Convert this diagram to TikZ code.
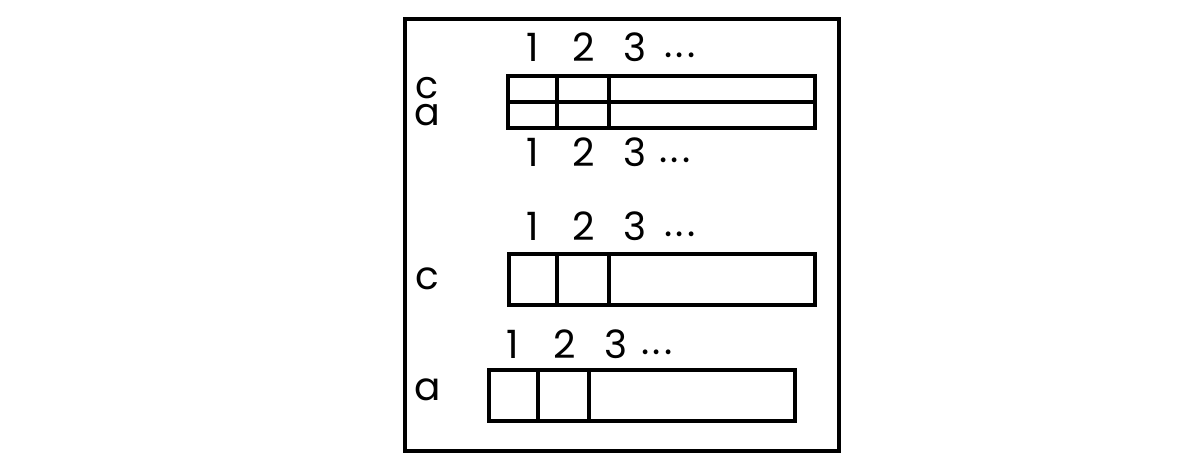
\documentclass[tikz,border=0pt]{standalone}
\usepackage{fontspec}
\setmainfont{Poppins}
\newcommand{\mydots}{.\kern3pt.\kern3pt.}
\begin{document}
\begin{tikzpicture}[x=1pt,y=-1pt,
  lbl/.style={font=\fontsize{39}{39}\selectfont, inner sep=0pt, anchor=center},
  frm/.style={draw=black, line width=3.5pt},
  cell/.style={draw=black, line width=3.5pt}]
\useasboundingbox (0,0) rectangle (1200,472);
\node[frm, minimum width=434pt, minimum height=432pt, anchor=north west, inner sep=0pt] (frame) at (403,17) {};
% top double row
\node[cell, anchor=north west, minimum width=307pt, minimum height=52pt, inner sep=0pt] (ca) at (506,74) {};
\draw[cell] (ca.west) -- (ca.east);
\draw[cell] (557,74) -- (557,126);
\draw[cell] (609,74) -- (609,126);
\node[lbl] (t1) at (533,47) {1};
\node[lbl] (t2) at (584,47) {2};
\node[lbl] (t3) at (635,47) {3};
\node[lbl] (td) at (680,55) {\mydots};
\node[lbl, font=\fontsize{38}{27}\selectfont, align=center, anchor=base] (lca) at (427,125) {c\\a};
\node[lbl] (b1) at (533,152) {1};
\node[lbl] (b2) at (584,152) {2};
\node[lbl] (b3) at (635,152) {3};
\node[lbl] (bd) at (675,160) {\mydots};
% c row
\node[cell, anchor=north west, minimum width=306pt, minimum height=51pt, inner sep=0pt] (cb) at (507,252) {};
\draw[cell] (557,252) -- (557,303);
\draw[cell] (609,252) -- (609,303);
\node[lbl] (c1) at (533,226) {1};
\node[lbl] (c2) at (584,226) {2};
\node[lbl] (c3) at (635,226) {3};
\node[lbl] (cd) at (680,234) {\mydots};
\node[lbl] (lc2) at (427,279) {c};
% a row
\node[cell, anchor=north west, minimum width=306pt, minimum height=51pt, inner sep=0pt] (ab) at (487,368) {};
\draw[cell] (538,368) -- (538,419);
\draw[cell] (589,368) -- (589,419);
\node[lbl] (a1) at (513,344) {1};
\node[lbl] (a2) at (565,344) {2};
\node[lbl] (a3) at (616,344) {3};
\node[lbl] (ad) at (657,352) {\mydots};
\node[lbl] (la2) at (428,390) {a};
\end{tikzpicture}
\end{document}
